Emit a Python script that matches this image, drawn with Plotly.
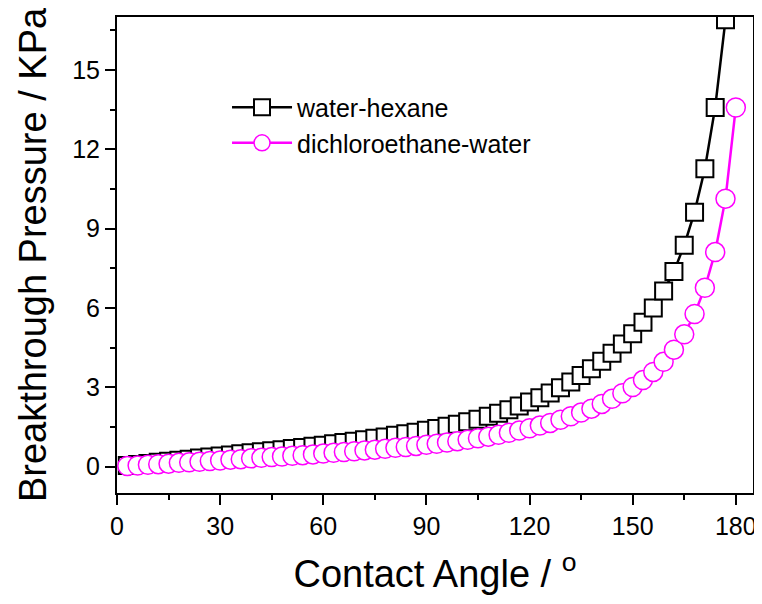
import plotly.graph_objects as go

# Contact angle (degrees)
angle_wh = [3, 6, 9, 12, 15, 18, 21, 24, 27, 30, 33, 36, 39, 42, 45, 48, 51, 54, 57, 60,
            63, 66, 69, 72, 75, 78, 81, 84, 87, 90, 93, 96, 99, 102, 105, 108, 111, 114, 117, 120,
            123, 126, 129, 132, 135, 138, 141, 144, 147, 150, 153, 156, 159, 162, 165, 168, 171, 174, 177]
pressure_wh = [0.04, 0.08, 0.12, 0.16, 0.20, 0.24, 0.28, 0.32, 0.36, 0.40, 0.44, 0.48, 0.52, 0.56, 0.60, 0.64, 0.68, 0.72, 0.77, 0.81,
               0.86, 0.91, 0.96, 1.01, 1.07, 1.12, 1.18, 1.24, 1.30, 1.37, 1.44, 1.52, 1.60, 1.69, 1.79, 1.90, 2.02, 2.15, 2.29, 2.44,
               2.60, 2.78, 2.98, 3.20, 3.44, 3.70, 3.98, 4.28, 4.63, 5.02, 5.46, 6.00, 6.64, 7.38, 8.37, 9.62, 11.26, 13.58, 16.9]

angle_dw = [3, 6, 9, 12, 15, 18, 21, 24, 27, 30, 33, 36, 39, 42, 45, 48, 51, 54, 57, 60,
            63, 66, 69, 72, 75, 78, 81, 84, 87, 90, 93, 96, 99, 102, 105, 108, 111, 114, 117, 120,
            123, 126, 129, 132, 135, 138, 141, 144, 147, 150, 153, 156, 159, 162, 165, 168, 171, 174, 177, 180]
pressure_dw = [0.02, 0.04, 0.07, 0.09, 0.11, 0.14, 0.16, 0.18, 0.21, 0.23, 0.26, 0.28, 0.31, 0.33, 0.36, 0.38, 0.41, 0.43, 0.46, 0.49,
               0.52, 0.55, 0.58, 0.61, 0.64, 0.67, 0.71, 0.74, 0.78, 0.82, 0.86, 0.91, 0.96, 1.01, 1.07, 1.13, 1.20, 1.28, 1.36, 1.45,
               1.55, 1.65, 1.77, 1.90, 2.04, 2.19, 2.37, 2.56, 2.77, 3.01, 3.27, 3.58, 3.96, 4.42, 5.00, 5.77, 6.76, 8.11, 10.13, 13.58]

FONT = "Arial, Liberation Sans, sans-serif"

fig = go.Figure()
fig.add_trace(go.Scatter(
    x=angle_wh, y=pressure_wh, name="water-hexane", mode="lines+markers",
    line=dict(color="black", width=2.5),
    marker=dict(symbol="square", size=17, color="white", line=dict(color="black", width=2)),
))
fig.add_trace(go.Scatter(
    x=angle_dw, y=pressure_dw, name="dichloroethane-water", mode="lines+markers",
    line=dict(color="#FF00FF", width=2.5),
    marker=dict(symbol="circle", size=19, color="white", line=dict(color="#FF00FF", width=1.5)),
))

axis_common = dict(
    showline=True, linecolor="black", linewidth=2, mirror=True,
    ticks="outside", ticklen=10, tickwidth=2, tickcolor="black",
    showgrid=False, zeroline=False, automargin=False,
    tickfont=dict(family=FONT, size=25, color="black"),
)

fig.update_xaxes(
    range=[0, 185], tickmode="linear", tick0=0, dtick=30,
    minor=dict(ticks="outside", dtick=15, ticklen=5, tickwidth=2, tickcolor="black", showgrid=False),
    title=dict(text="Contact Angle / <sup>o</sup>", font=dict(family=FONT, size=38, color="black"), standoff=21),
    **axis_common,
)
fig.update_yaxes(
    range=[-1, 17], tickmode="linear", tick0=0, dtick=3,
    minor=dict(ticks="outside", dtick=1.5, ticklen=5, tickwidth=2, tickcolor="black", showgrid=False),
    title=dict(text="Breakthrough Pressure / KPa", font=dict(family=FONT, size=38, color="black"), standoff=14),
    **axis_common,
)

# page body adds an 8 px offset, so the figure is 8 px smaller and margins shifted
fig.update_layout(
    width=754, height=596,
    margin=dict(l=109, r=9, t=9, b=111),
    paper_bgcolor="white", plot_bgcolor="white",
    font=dict(family=FONT, color="black"),
    showlegend=True,
    legend=dict(
        x=0.173, y=0.858, xanchor="left", yanchor="top",
        bgcolor="rgba(0,0,0,0)", borderwidth=0,
        font=dict(family=FONT, size=25, color="black"),
        itemwidth=60,
    ),
)

fig.write_html("out.html")
